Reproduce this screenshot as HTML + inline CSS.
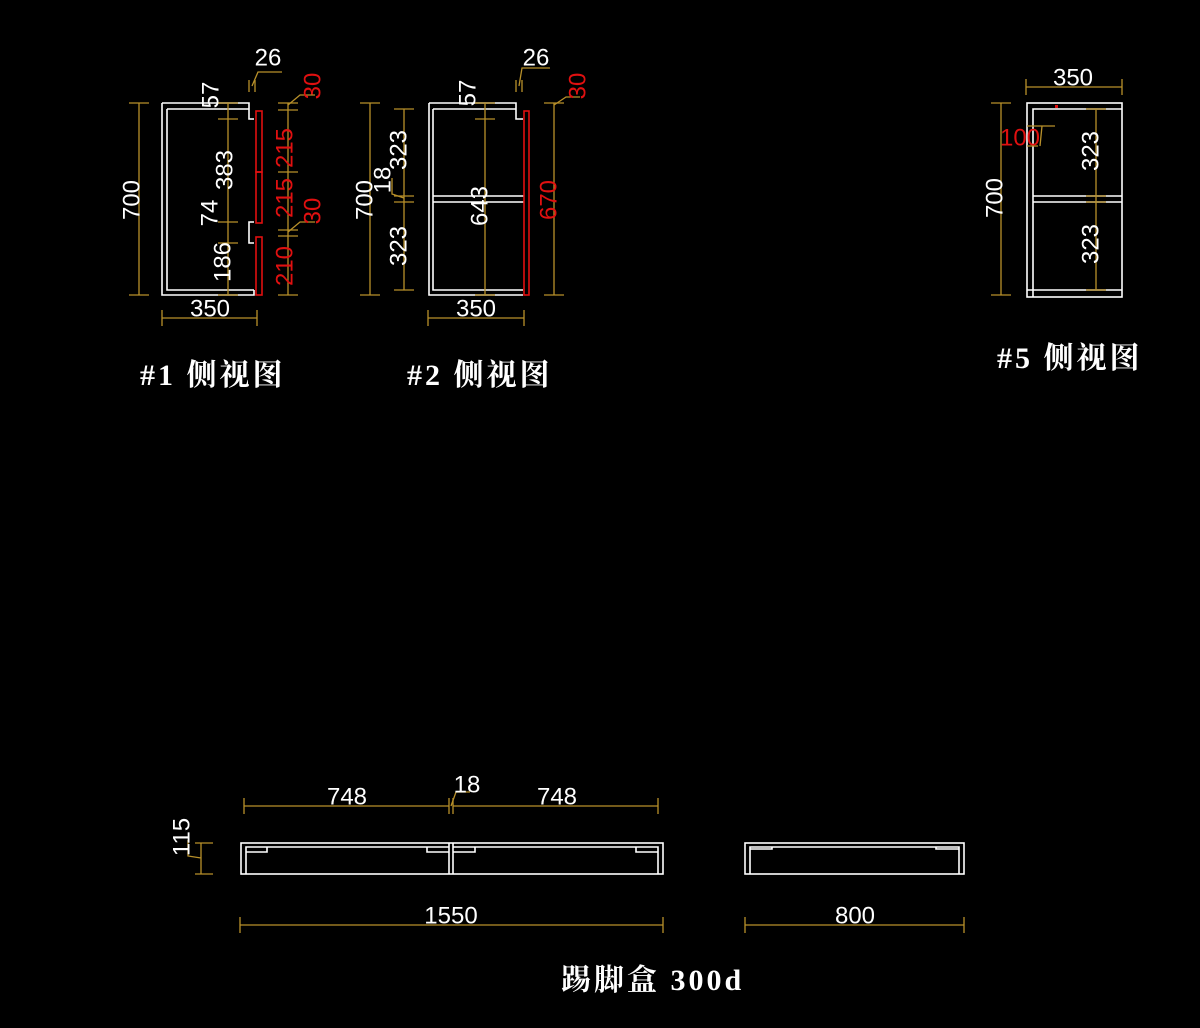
<!DOCTYPE html>
<html><head><meta charset="utf-8"><style>
html,body{margin:0;padding:0;background:#000;}
svg{display:block}
.w{stroke:#fff;stroke-width:1.6;fill:none}
.r{stroke:#e01010;stroke-width:1.6;fill:none}
.d{stroke:#b8902a;stroke-width:1.3;fill:none}
.t,.tr{font-family:"Liberation Sans",sans-serif;font-size:24px;text-anchor:middle;dominant-baseline:central;}
.t{fill:#fff}
.tr{fill:#e01010}
.ti{fill:#fff;font-family:"Liberation Serif","Noto Serif CJK SC",serif;font-size:30px;font-weight:bold;letter-spacing:3px;}
</style></head><body>
<svg width="1200" height="1028" viewBox="0 0 1200 1028" xmlns="http://www.w3.org/2000/svg">
<rect width="1200" height="1028" fill="#000"/>

<!-- #1 -->
<g class="w">
<path d="M162,103 H249 V119 H254"/>
<path d="M167,109 H249"/>
<path d="M162,103 V295 H254 V290"/>
<path d="M167,109 V290 H254"/>
<path d="M254,222 H249 V243 H254"/>
</g>
<g class="r">
<rect x="256" y="111" width="6" height="61"/>
<rect x="256" y="172" width="6" height="51"/>
<rect x="256" y="237" width="6" height="58"/>
</g>
<g class="d">
<path d="M139,103 V295 M129,103 H149 M129,295 H149"/>
<path d="M228,103 V295 M218,103 H238 M218,119 H238 M218,222 H238 M218,243 H238 M218,295 H238"/>
<path d="M288,103 V295 M278,103 H298 M278,110 H298 M278,172 H298 M278,230 H298 M278,236 H298 M278,295 H298"/>
<path d="M162,318 H257 M162,310 V326 M257,310 V326"/>
<path d="M249,80 V92 M255,80 V92 M252,86 L258,72 H282"/>
<path d="M288,105 L300,95 H315 M288,232 L300,222 H315"/>
</g>
<text class="t" x="210" y="309">350</text>
<text class="t" x="268" y="58">26</text>
<text class="t" transform="translate(132,200) rotate(-90)">700</text>
<text class="t" transform="translate(211,95) rotate(-90)">57</text>
<text class="t" transform="translate(225,170) rotate(-90)">383</text>
<text class="t" transform="translate(210,213) rotate(-90)">74</text>
<text class="t" transform="translate(223,262) rotate(-90)">186</text>
<text class="tr" transform="translate(285,148) rotate(-90)">215</text>
<text class="tr" transform="translate(285,198) rotate(-90)">215</text>
<text class="tr" transform="translate(285,266) rotate(-90)">210</text>
<text class="tr" transform="translate(313,86) rotate(-90)">30</text>
<text class="tr" transform="translate(313,211) rotate(-90)">30</text>

<!-- #2 -->
<g class="w">
<path d="M429,103 H516 V119 H523"/>
<path d="M433,109 H516"/>
<path d="M429,103 V295 H523"/>
<path d="M433,109 V290 H523"/>
<path d="M433,196 H524 M433,202 H524"/>
</g>
<rect class="r" x="524" y="111" width="5" height="184"/>
<g class="d">
<path d="M370,103 V295 M360,103 H380 M360,295 H380"/>
<path d="M404,109 V290 M394,109 H414 M394,196 H414 M394,202 H414 M394,290 H414"/>
<path d="M485,103 V295 M475,103 H495 M475,119 H495 M475,295 H495"/>
<path d="M554,103 V295 M544,103 H564 M544,295 H564"/>
<path d="M428,318 H524 M428,310 V326 M524,310 V326"/>
<path d="M516,80 V92 M522,80 V92 M519,86 L522,68 H550"/>
<path d="M554,105 L566,97 H580"/>
<path d="M404,198 L392,194 V178"/>
</g>
<text class="t" x="476" y="309">350</text>
<text class="t" x="536" y="58">26</text>
<text class="t" transform="translate(365,200) rotate(-90)">700</text>
<text class="t" transform="translate(468,93) rotate(-90)">57</text>
<text class="t" transform="translate(399,150) rotate(-90)">323</text>
<text class="t" transform="translate(383,180) rotate(-90)">18</text>
<text class="t" transform="translate(399,246) rotate(-90)">323</text>
<text class="t" transform="translate(480,206) rotate(-90)">643</text>
<text class="tr" transform="translate(549,200) rotate(-90)">670</text>
<text class="tr" transform="translate(578,86) rotate(-90)">30</text>

<!-- #5 -->
<g class="w">
<rect x="1027" y="103" width="95" height="194"/>
<path d="M1033,297 V109 H1122"/>
<path d="M1033,196 H1122 M1033,202 H1122"/>
<path d="M1027,290 H1122"/>
</g>
<g class="d">
<path d="M1001,103 V295 M991,103 H1011 M991,295 H1011"/>
<path d="M1026,87 H1122 M1026,79 V95 M1122,79 V95"/>
<path d="M1096,109 V290 M1086,109 H1106 M1086,196 H1106 M1086,202 H1106 M1086,290 H1106"/>
<path d="M1027,126 H1055 M1027,146 H1038 M1040,146 L1042,126"/>
</g>
<rect x="1055" y="105" width="3" height="3" fill="#e01010"/>
<text class="tr" x="1020" y="138">100</text>
<text class="t" x="1073" y="78">350</text>
<text class="t" transform="translate(995,198) rotate(-90)">700</text>
<text class="t" transform="translate(1091,151) rotate(-90)">323</text>
<text class="t" transform="translate(1091,244) rotate(-90)">323</text>

<!-- titles -->
<text class="ti" x="140" y="385">#1 侧视图</text>
<text class="ti" x="407" y="385">#2 侧视图</text>
<text class="ti" x="997" y="368">#5 侧视图</text>
<text class="ti" x="561" y="990">踢脚盒 300d</text>

<!-- bottom box 1 -->
<g class="w">
<rect x="241" y="843" width="422" height="31"/>
<path d="M246,874 V847 H449 M453,847 H658 V874"/>
<path d="M449,843 V874 M453,843 V874"/>
<path d="M246,852 H267 V847 M449,852 H427 V847 M453,852 H475 V847 M658,852 H636 V847"/>
</g>
<!-- bottom box 2 -->
<g class="w">
<rect x="745" y="843" width="219" height="31"/>
<path d="M750,874 V847 H959 V874"/>
<path d="M750,849 H772 V847 M959,849 H936 V847"/>
</g>
<g class="d">
<path d="M244,806 H449 M244,798 V814 M449,798 V814"/>
<path d="M453,806 H658 M453,798 V814 M658,798 V814"/>
<path d="M451,806 L456,792 H470"/>
<path d="M201,843 V874 M195,843 H213 M195,874 H213 M201,858 L188,856 V840"/>
<path d="M240,925 H663 M240,917 V933 M663,917 V933"/>
<path d="M745,925 H964 M745,917 V933 M964,917 V933"/>
</g>
<text class="t" x="347" y="797">748</text>
<text class="t" x="467" y="785">18</text>
<text class="t" x="557" y="797">748</text>
<text class="t" transform="translate(182,837) rotate(-90)">115</text>
<text class="t" x="451" y="916">1550</text>
<text class="t" x="855" y="916">800</text>
</svg>
</body></html>
